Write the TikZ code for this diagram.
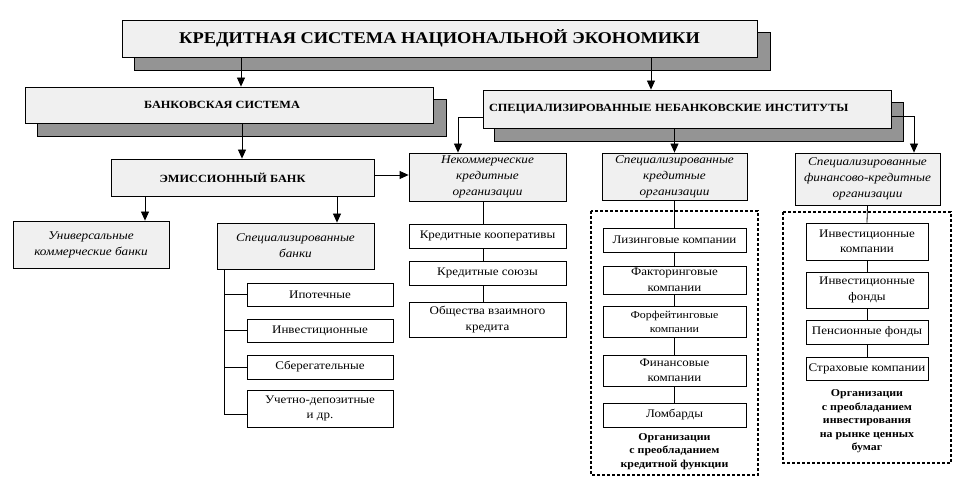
\documentclass[tikz,border=0pt]{standalone}
\usepackage{fontspec}
\setmainfont{Liberation Serif}[FakeStretch=1.12]
\usetikzlibrary{arrows.meta,backgrounds}
\begin{document}
\begin{tikzpicture}[x=1pt,y=-1pt,
  box/.style={draw=black,line width=0.8pt,fill=white,align=center,inner sep=1pt,
    font=\fontsize{11.6}{15.5}\selectfont},
  gbox/.style={box,fill=gray!12},
  ibox/.style={gbox,font=\fontsize{11.8}{16}\selectfont\itshape},
  hbox/.style={gbox,font=\fontsize{11}{13}\selectfont\bfseries},
  shadowbox/.style={draw=black,line width=0.6pt,fill=black!42},
  dbox/.style={draw=black,line width=1.2pt,dash pattern=on 3pt off 2pt},
  lbl/.style={align=center,inner sep=0pt,font=\fontsize{10.6}{13.5}\selectfont\bfseries},
  arr/.style={draw=black,line width=0.8pt,-{Triangle[length=9pt,width=8pt]}},
  ln/.style={draw=black,line width=0.8pt}
]
\useasboundingbox (0,0) rectangle (967,502);

% top level
\node[hbox,minimum width=635pt,minimum height=37pt,font=\fontsize{16.4}{20}\selectfont\bfseries] (title) at (439.5,38.5) {КРЕДИТНАЯ СИСТЕМА НАЦИОНАЛЬНОЙ ЭКОНОМИКИ};
\node[hbox,minimum width=408pt,minimum height=36pt] (bank) at (229,105) {БАНКОВСКАЯ СИСТЕМА\hspace*{14pt}};
\node[hbox,minimum width=408pt,minimum height=38pt,text width=396pt,align=left,inner sep=6pt] (snbi) at (687,109) {СПЕЦИАЛИЗИРОВАННЫЕ НЕБАНКОВСКИЕ ИНСТИТУТЫ};

\begin{pgfonlayer}{background}
  \draw[shadowbox] ([shift={(13,13)}]title.south west) rectangle ([shift={(13,13)}]title.north east);
  \draw[shadowbox] ([shift={(13,13)}]bank.south west) rectangle ([shift={(13,13)}]bank.north east);
  \draw[shadowbox] ([shift={(12,13)}]snbi.south west) rectangle ([shift={(12,13)}]snbi.north east);
\end{pgfonlayer}

% banking branch
\node[hbox,minimum width=263pt,minimum height=37pt] (emis) at (242.5,177.5) {ЭМИССИОННЫЙ БАНК\hspace*{20pt}};
\node[ibox,minimum width=156pt,minimum height=47pt] (univ) at (91,244.5) {Универсальные\\коммерческие банки};
\node[ibox,minimum width=157pt,minimum height=46pt] (specb) at (295.5,246) {Специализированные\\банки};
\node[box,minimum width=146pt,minimum height=23pt] (ipot) at (320,294.5) {Ипотечные};
\node[box,minimum width=146pt,minimum height=23pt] (inv) at (320,330.5) {Инвестиционные};
\node[box,minimum width=146pt,minimum height=24pt] (sber) at (320,367) {Сберегательные};
\node[box,minimum width=146pt,minimum height=37pt] (uchet) at (320,408.5) {Учетно-депозитные\\и др.};

% non-commercial
\node[ibox,minimum width=157pt,minimum height=48pt] (nko) at (487.5,177) {Некоммерческие\\кредитные\\организации};
\node[box,minimum width=157pt,minimum height=24pt] (kk) at (487.5,236) {Кредитные кооперативы};
\node[box,minimum width=157pt,minimum height=24pt] (ks) at (487.5,273) {Кредитные союзы};
\node[box,minimum width=157pt,minimum height=35pt] (ovk) at (487.5,319.5) {Общества взаимного\\кредита};

% specialized credit organisations
\node[ibox,minimum width=145pt,minimum height=47pt] (sko) at (674.5,176.5) {Специализированные\\кредитные\\организации};
\draw[dbox] (591,211) rectangle (758,475);
\node[box,minimum width=143pt,minimum height=24pt] (liz) at (674.5,240) {Лизинговые компании};
\node[box,minimum width=143pt,minimum height=28pt] (fakt) at (674.5,280) {Факторинговые\\компании};
\node[box,minimum width=143pt,minimum height=31pt,font=\fontsize{10.6}{14}\selectfont] (forf) at (674.5,321.5) {Форфейтинговые\\компании};
\node[box,minimum width=143pt,minimum height=31pt] (fin) at (674.5,370.5) {Финансовые\\компании};
\node[box,minimum width=143pt,minimum height=24pt] (lomb) at (674.5,415) {Ломбарды};
\node[lbl] (lab1) at (674.5,451.5) {Организации\\с преобладанием\\кредитной функции};

% specialized financial-credit organisations
\node[ibox,minimum width=145pt,minimum height=52pt] (sfko) at (867.5,179) {Специализированные\\финансово-кредитные\\организации};
\draw[dbox] (783,212) rectangle (951,463);
\node[box,minimum width=122pt,minimum height=37pt] (ik) at (867,241.5) {Инвестиционные\\компании};
\node[box,minimum width=122pt,minimum height=36pt] (if) at (867,290) {Инвестиционные\\фонды};
\node[box,minimum width=122pt,minimum height=24pt] (pf) at (867,332) {Пенсионные фонды};
\node[box,minimum width=122pt,minimum height=23pt] (sk) at (867,368.5) {Страховые компании};
\node[lbl] (lab2) at (867,421.5) {Организации\\с преобладанием\\инвестирования\\на рынке ценных\\бумаг};

% arrows
\draw[arr] (title.south -| 241,0) -- (bank.north -| 241,0);
\draw[arr] (title.south -| 651,0) -- (snbi.north -| 651,0);
\draw[arr] (bank.south -| 242,0) -- (emis.north -| 242,0);
\draw[arr] (snbi.west |- 0,117) -| (nko.north -| 458,0);
\draw[arr] (snbi.south -| sko.north) -- (sko.north);
\draw[arr] (snbi.east |- 0,116) -| (sfko.north -| 914,0);
\draw[arr] (emis.east |- 0,175) -- (nko.west |- 0,175);
\draw[arr] (emis.south -| 145,0) -- (univ.north -| 145,0);
\draw[arr] (emis.south -| 337,0) -- (specb.north -| 337,0);

% trunk lines
\draw[ln] (specb.south -| 224,0) -- (224,414);
\foreach \b in {ipot,inv,sber} \draw[ln] (\b.west -| 224,0) -- (\b.west);
\draw[ln] (224,414) -- (uchet.west |- 0,414);
\draw[ln] (nko.south -| 483,0) -- (kk.north -| 483,0);
\draw[ln] (kk.south -| 483,0) -- (ks.north -| 483,0);
\draw[ln] (ks.south -| 483,0) -- (ovk.north -| 483,0);
\draw[ln] (sko.south) -- (liz.north);
\draw[ln] (liz.south) -- (fakt.north);
\draw[ln] (fakt.south) -- (forf.north);
\draw[ln] (forf.south) -- (fin.north);
\draw[ln] (fin.south) -- (lomb.north);
\draw[ln] (sfko.south) -- (ik.north);
\draw[ln] (ik.south) -- (if.north);
\draw[ln] (if.south) -- (pf.north);
\draw[ln] (pf.south) -- (sk.north);
\end{tikzpicture}
\end{document}
